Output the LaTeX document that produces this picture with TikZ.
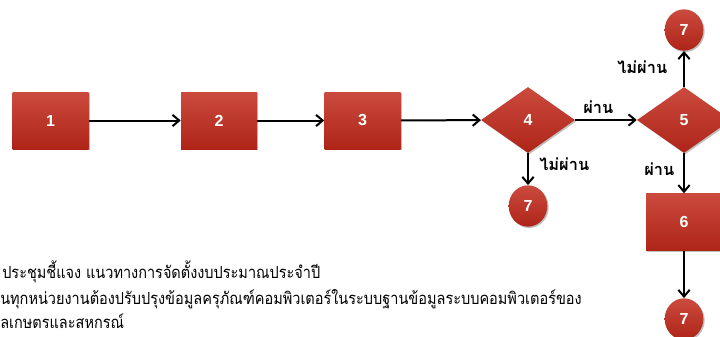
\documentclass[tikz,border=0pt]{standalone}
\usepackage{fontspec}
\setmainfont{Liberation Sans}
\newfontfamily\thaifont[Script=Thai,FakeStretch=0.87]{Loma}
\newfontfamily\thailbl[Script=Thai]{Loma}
\usetikzlibrary{arrows.meta,shapes.geometric,shadows}
\definecolor{redtop}{RGB}{203,74,62}
\definecolor{redbot}{RGB}{174,37,24}
\tikzset{
  redfill/.style={top color=redtop, bottom color=redbot, draw=none,
    drop shadow={shadow xshift=1pt, shadow yshift=-1pt, opacity=0.25, fill=black},
    text=white, font=\fontsize{12}{12}\selectfont\bfseries, inner sep=0pt},
  stepbox/.style={redfill, rectangle, minimum width=57pt, minimum height=42.75pt},
  decision/.style={redfill, diamond, aspect=1.42, minimum width=70.5pt, minimum height=49.5pt},
  endcircle/.style={redfill, ellipse, minimum width=29pt, minimum height=31pt},
  flow/.style={line width=1.5pt, -{Straight Barb[length=5pt,width=8.5pt,line width=1.5pt]}},
  lbl/.style={font=\thailbl\bfseries\fontsize{12.3}{12.3}\selectfont, inner sep=0pt, anchor=base west},
  body/.style={font=\thaifont\fontsize{12.5}{12.5}\selectfont, inner sep=0pt, anchor=base west}
}
\begin{document}
\begin{tikzpicture}[x=0.75pt,y=-0.75pt]
\useasboundingbox (0,0) rectangle (720,336);
\clip (0,0) rectangle (720,336);
\node[stepbox] (s1) at (50.5,120.5) {1};
\node[stepbox] (s2) at (219,120.5) {2};
\node[stepbox] (s3) at (362.5,120.5) {3};
\node[decision] (d4) at (528,120) {4};
\node[decision] (d5) at (684,120) {5};
\node[stepbox] (s6) at (684,222) {6};
\node[endcircle] (e4) at (528,206) {7};
\node[endcircle] (e5) at (684,30) {7};
\node[endcircle] (e6) at (684,319) {7};
\draw[flow] (s1) -- (s2);
\draw[flow] (s2) -- (s3);
\draw[flow] (s3) -- (d4);
\draw[flow] (d4) -- (d5);
\draw[flow] (d4) -- (e4);
\draw[flow] (d5) -- (s6);
\draw[flow] (d5) -- (e5);
\draw[flow] (s6) -- (e6);
\node[lbl] (l1) at (583,113) {ผ่าน};
\node[lbl] (l2) at (539,170) {ไม่ผ่าน};
\node[lbl] (l3) at (644,175) {ผ่าน};
\node[lbl] (l4) at (617,73) {ไม่ผ่าน};
\node[body] (t1) at (2,278) {ประชุมชี้แจง แนวทางการจัดตั้งงบประมาณประจำปี};
\node[body] (t2) at (0,304) {นทุกหน่วยงานต้องปรับปรุงข้อมูลครุภัณฑ์คอมพิวเตอร์ในระบบฐานข้อมูลระบบคอมพิวเตอร์ของ};
\node[body] (t3) at (0,328) {ลเกษตรและสหกรณ์};
\end{tikzpicture}
\end{document}
